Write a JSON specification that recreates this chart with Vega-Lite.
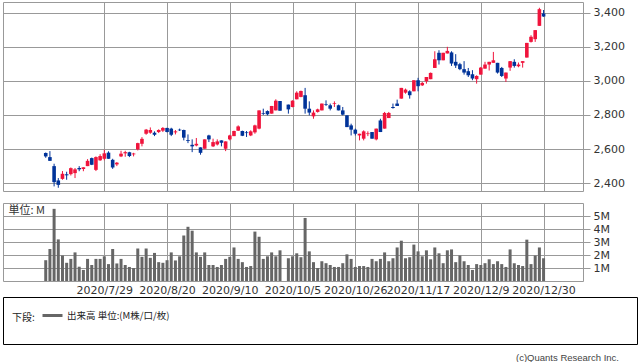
{
  "$schema": "https://vega.github.io/schema/vega-lite/v6.json",
  "padding": {"left": 2, "top": 1, "right": 1, "bottom": 1},
  "background": "white",
  "bounds": "full",
  "spacing": 0,
  "config": {
    "font": "DejaVu Sans",
    "view": {"stroke": "#999999", "strokeWidth": 1},
    "axis": {"gridColor": "#999999", "gridWidth": 1, "gridOpacity": 1, "labelFont": "DejaVu Sans", "labelFontSize": 11, "labelColor": "#333333", "tickColor": "#999999", "domain": false, "title": null, "labelOverlap": false}
  },
  "datasets": {
    "ohlc": [
      {"i":0,"d":"2020-07-07","o":2577,"h":2580,"l":2549,"c":2557,"v":1.6},
      {"i":1,"d":"2020-07-08","o":2553,"h":2588,"l":2530,"c":2531,"v":2.46},
      {"i":2,"d":"2020-07-09","o":2500,"h":2514,"l":2381,"c":2406,"v":5.55},
      {"i":3,"d":"2020-07-10","o":2416,"h":2430,"l":2373,"c":2390,"v":3.2},
      {"i":4,"d":"2020-07-13","o":2425,"h":2471,"l":2420,"c":2455,"v":1.96},
      {"i":5,"d":"2020-07-14","o":2452,"h":2467,"l":2420,"c":2446,"v":1.4},
      {"i":6,"d":"2020-07-15","o":2453,"h":2492,"l":2445,"c":2488,"v":1.7},
      {"i":7,"d":"2020-07-16","o":2459,"h":2489,"l":2430,"c":2481,"v":2.2},
      {"i":8,"d":"2020-07-17","o":2489,"h":2500,"l":2470,"c":2481,"v":1.1},
      {"i":9,"d":"2020-07-20","o":2483,"h":2493,"l":2470,"c":2493,"v":0.85},
      {"i":10,"d":"2020-07-21","o":2500,"h":2541,"l":2500,"c":2531,"v":1.7},
      {"i":11,"d":"2020-07-22","o":2547,"h":2550,"l":2506,"c":2508,"v":1.23},
      {"i":12,"d":"2020-07-27","o":2478,"h":2557,"l":2471,"c":2553,"v":1.7},
      {"i":13,"d":"2020-07-28","o":2534,"h":2570,"l":2531,"c":2559,"v":1.7},
      {"i":14,"d":"2020-07-29","o":2543,"h":2596,"l":2534,"c":2575,"v":1.9},
      {"i":15,"d":"2020-07-30","o":2579,"h":2587,"l":2543,"c":2543,"v":1.3},
      {"i":16,"d":"2020-07-31","o":2537,"h":2543,"l":2484,"c":2492,"v":2.46},
      {"i":17,"d":"2020-08-03","o":2510,"h":2524,"l":2500,"c":2520,"v":1.35},
      {"i":18,"d":"2020-08-04","o":2557,"h":2590,"l":2553,"c":2573,"v":1.7},
      {"i":19,"d":"2020-08-05","o":2575,"h":2590,"l":2555,"c":2582,"v":1.23},
      {"i":20,"d":"2020-08-06","o":2582,"h":2584,"l":2553,"c":2559,"v":1.08},
      {"i":21,"d":"2020-08-07","o":2569,"h":2578,"l":2557,"c":2574,"v":1.0},
      {"i":22,"d":"2020-08-11","o":2598,"h":2637,"l":2592,"c":2635,"v":2.5},
      {"i":23,"d":"2020-08-12","o":2631,"h":2670,"l":2616,"c":2660,"v":1.86},
      {"i":24,"d":"2020-08-13","o":2690,"h":2718,"l":2684,"c":2714,"v":2.5},
      {"i":25,"d":"2020-08-14","o":2696,"h":2727,"l":2690,"c":2712,"v":1.78},
      {"i":26,"d":"2020-08-17","o":2696,"h":2704,"l":2676,"c":2684,"v":2.16},
      {"i":27,"d":"2020-08-18","o":2700,"h":2716,"l":2694,"c":2712,"v":1.45},
      {"i":28,"d":"2020-08-19","o":2708,"h":2729,"l":2700,"c":2724,"v":1.4},
      {"i":29,"d":"2020-08-20","o":2724,"h":2725,"l":2698,"c":2700,"v":1.6},
      {"i":30,"d":"2020-08-21","o":2720,"h":2725,"l":2676,"c":2684,"v":2.2},
      {"i":31,"d":"2020-08-24","o":2698,"h":2712,"l":2686,"c":2704,"v":1.58},
      {"i":32,"d":"2020-08-25","o":2714,"h":2720,"l":2706,"c":2710,"v":1.9},
      {"i":33,"d":"2020-08-26","o":2712,"h":2714,"l":2651,"c":2667,"v":3.5},
      {"i":34,"d":"2020-08-27","o":2653,"h":2686,"l":2635,"c":2648,"v":4.17},
      {"i":35,"d":"2020-08-28","o":2625,"h":2657,"l":2582,"c":2616,"v":3.87},
      {"i":36,"d":"2020-08-31","o":2621,"h":2665,"l":2616,"c":2631,"v":2.2},
      {"i":37,"d":"2020-09-01","o":2610,"h":2610,"l":2567,"c":2578,"v":1.86},
      {"i":38,"d":"2020-09-02","o":2602,"h":2657,"l":2602,"c":2657,"v":2.2},
      {"i":39,"d":"2020-09-03","o":2680,"h":2684,"l":2641,"c":2657,"v":1.23},
      {"i":40,"d":"2020-09-04","o":2616,"h":2661,"l":2612,"c":2641,"v":1.23},
      {"i":41,"d":"2020-09-07","o":2627,"h":2657,"l":2621,"c":2645,"v":1.08},
      {"i":42,"d":"2020-09-08","o":2651,"h":2651,"l":2616,"c":2637,"v":1.23},
      {"i":43,"d":"2020-09-09","o":2602,"h":2645,"l":2588,"c":2645,"v":1.7},
      {"i":44,"d":"2020-09-10","o":2657,"h":2684,"l":2651,"c":2680,"v":1.86},
      {"i":45,"d":"2020-09-11","o":2676,"h":2708,"l":2676,"c":2706,"v":2.58},
      {"i":46,"d":"2020-09-14","o":2708,"h":2739,"l":2706,"c":2733,"v":1.7},
      {"i":47,"d":"2020-09-15","o":2706,"h":2708,"l":2676,"c":2678,"v":1.45},
      {"i":48,"d":"2020-09-16","o":2698,"h":2706,"l":2671,"c":2694,"v":1.08},
      {"i":49,"d":"2020-09-17","o":2680,"h":2710,"l":2676,"c":2704,"v":1.15},
      {"i":50,"d":"2020-09-18","o":2698,"h":2743,"l":2690,"c":2739,"v":3.8},
      {"i":51,"d":"2020-09-23","o":2720,"h":2827,"l":2716,"c":2827,"v":3.4},
      {"i":52,"d":"2020-09-24","o":2810,"h":2837,"l":2800,"c":2806,"v":1.7},
      {"i":53,"d":"2020-09-25","o":2823,"h":2827,"l":2798,"c":2804,"v":1.9},
      {"i":54,"d":"2020-09-28","o":2808,"h":2853,"l":2808,"c":2853,"v":2.2},
      {"i":55,"d":"2020-09-29","o":2827,"h":2892,"l":2827,"c":2884,"v":1.9},
      {"i":56,"d":"2020-09-30","o":2882,"h":2882,"l":2825,"c":2825,"v":2.36},
      {"i":58,"d":"2020-10-02","o":2861,"h":2861,"l":2808,"c":2833,"v":1.75},
      {"i":59,"d":"2020-10-05","o":2847,"h":2886,"l":2845,"c":2884,"v":1.9},
      {"i":60,"d":"2020-10-06","o":2892,"h":2939,"l":2892,"c":2931,"v":2.13},
      {"i":61,"d":"2020-10-07","o":2906,"h":2943,"l":2904,"c":2941,"v":1.83},
      {"i":62,"d":"2020-10-08","o":2916,"h":2959,"l":2808,"c":2837,"v":4.85},
      {"i":63,"d":"2020-10-09","o":2837,"h":2880,"l":2798,"c":2814,"v":2.28},
      {"i":64,"d":"2020-10-12","o":2792,"h":2827,"l":2778,"c":2814,"v":1.45},
      {"i":65,"d":"2020-10-13","o":2818,"h":2837,"l":2814,"c":2833,"v":1.0},
      {"i":66,"d":"2020-10-14","o":2827,"h":2867,"l":2827,"c":2867,"v":1.52},
      {"i":67,"d":"2020-10-15","o":2863,"h":2886,"l":2853,"c":2859,"v":1.37},
      {"i":68,"d":"2020-10-16","o":2857,"h":2867,"l":2827,"c":2837,"v":1.23},
      {"i":69,"d":"2020-10-19","o":2865,"h":2880,"l":2847,"c":2869,"v":1.08},
      {"i":70,"d":"2020-10-20","o":2857,"h":2861,"l":2827,"c":2827,"v":1.08},
      {"i":71,"d":"2020-10-21","o":2827,"h":2847,"l":2798,"c":2802,"v":1.37},
      {"i":72,"d":"2020-10-22","o":2798,"h":2798,"l":2729,"c":2729,"v":2.05},
      {"i":73,"d":"2020-10-23","o":2739,"h":2749,"l":2680,"c":2714,"v":1.7},
      {"i":74,"d":"2020-10-26","o":2714,"h":2720,"l":2680,"c":2690,"v":1.08},
      {"i":75,"d":"2020-10-27","o":2680,"h":2690,"l":2651,"c":2690,"v":1.15},
      {"i":76,"d":"2020-10-28","o":2661,"h":2710,"l":2651,"c":2704,"v":1.15},
      {"i":77,"d":"2020-10-29","o":2688,"h":2704,"l":2676,"c":2692,"v":1.08},
      {"i":78,"d":"2020-10-30","o":2700,"h":2700,"l":2661,"c":2661,"v":1.7},
      {"i":79,"d":"2020-11-02","o":2657,"h":2720,"l":2651,"c":2720,"v":1.52},
      {"i":80,"d":"2020-11-04","o":2768,"h":2778,"l":2700,"c":2700,"v":1.7},
      {"i":81,"d":"2020-11-05","o":2720,"h":2818,"l":2720,"c":2812,"v":2.2},
      {"i":82,"d":"2020-11-06","o":2782,"h":2818,"l":2782,"c":2812,"v":1.52},
      {"i":83,"d":"2020-11-09","o":2847,"h":2867,"l":2837,"c":2841,"v":1.75},
      {"i":84,"d":"2020-11-10","o":2867,"h":2890,"l":2853,"c":2853,"v":2.58},
      {"i":85,"d":"2020-11-11","o":2896,"h":2959,"l":2896,"c":2959,"v":3.1},
      {"i":86,"d":"2020-11-12","o":2931,"h":2955,"l":2925,"c":2949,"v":1.75},
      {"i":87,"d":"2020-11-13","o":2939,"h":2945,"l":2896,"c":2916,"v":1.83},
      {"i":88,"d":"2020-11-16","o":2939,"h":3004,"l":2939,"c":3004,"v":2.8},
      {"i":89,"d":"2020-11-17","o":3004,"h":3018,"l":2939,"c":2969,"v":2.28},
      {"i":90,"d":"2020-11-18","o":2974,"h":2994,"l":2970,"c":2988,"v":1.9},
      {"i":91,"d":"2020-11-19","o":2998,"h":3023,"l":2984,"c":3023,"v":2.36},
      {"i":92,"d":"2020-11-20","o":3010,"h":3049,"l":3010,"c":3047,"v":1.67},
      {"i":93,"d":"2020-11-24","o":3076,"h":3174,"l":3076,"c":3127,"v":2.58},
      {"i":94,"d":"2020-11-25","o":3165,"h":3180,"l":3096,"c":3121,"v":2.13},
      {"i":95,"d":"2020-11-26","o":3121,"h":3165,"l":3121,"c":3165,"v":1.37},
      {"i":96,"d":"2020-11-27","o":3161,"h":3200,"l":3161,"c":3176,"v":2.36},
      {"i":97,"d":"2020-11-30","o":3167,"h":3174,"l":3088,"c":3102,"v":2.43},
      {"i":98,"d":"2020-12-01","o":3112,"h":3157,"l":3076,"c":3090,"v":1.45},
      {"i":99,"d":"2020-12-02","o":3098,"h":3106,"l":3063,"c":3069,"v":1.96},
      {"i":100,"d":"2020-12-03","o":3069,"h":3116,"l":3037,"c":3049,"v":1.52},
      {"i":101,"d":"2020-12-04","o":3057,"h":3076,"l":3023,"c":3033,"v":1.23},
      {"i":102,"d":"2020-12-07","o":3039,"h":3063,"l":3004,"c":3014,"v":0.85},
      {"i":103,"d":"2020-12-08","o":3010,"h":3033,"l":2984,"c":3029,"v":1.3},
      {"i":104,"d":"2020-12-09","o":3037,"h":3082,"l":3037,"c":3078,"v":1.23},
      {"i":105,"d":"2020-12-10","o":3072,"h":3112,"l":3072,"c":3096,"v":1.37},
      {"i":106,"d":"2020-12-11","o":3096,"h":3112,"l":3061,"c":3112,"v":1.67},
      {"i":107,"d":"2020-12-14","o":3106,"h":3170,"l":3106,"c":3121,"v":1.3},
      {"i":108,"d":"2020-12-15","o":3106,"h":3106,"l":3043,"c":3049,"v":1.52},
      {"i":109,"d":"2020-12-16","o":3076,"h":3082,"l":3023,"c":3029,"v":1.3},
      {"i":110,"d":"2020-12-17","o":3014,"h":3049,"l":2994,"c":3049,"v":1.08},
      {"i":111,"d":"2020-12-18","o":3078,"h":3116,"l":3059,"c":3116,"v":2.43},
      {"i":112,"d":"2020-12-21","o":3112,"h":3127,"l":3078,"c":3088,"v":1.37},
      {"i":113,"d":"2020-12-22","o":3086,"h":3108,"l":3080,"c":3096,"v":1.23},
      {"i":114,"d":"2020-12-23","o":3106,"h":3116,"l":3078,"c":3116,"v":1.15},
      {"i":115,"d":"2020-12-24","o":3137,"h":3223,"l":3137,"c":3223,"v":3.18},
      {"i":116,"d":"2020-12-25","o":3229,"h":3268,"l":3225,"c":3259,"v":1.3},
      {"i":117,"d":"2020-12-28","o":3245,"h":3298,"l":3229,"c":3298,"v":1.96},
      {"i":118,"d":"2020-12-29","o":3323,"h":3429,"l":3323,"c":3421,"v":2.58},
      {"i":119,"d":"2020-12-30","o":3396,"h":3416,"l":3376,"c":3378,"v":1.75}
    ]
  },
  "vconcat": [
    {
      "bounds": "flush",
      "spacing": 12,
      "vconcat": [
        {
          "width": 580,
          "height": 189,
          "data": {"name": "ohlc"},
          "encoding": {
            "x": {"field": "i", "type": "quantitative",
                  "scale": {"domain": [-9.02, 127.23], "nice": false, "zero": false},
                  "axis": {"values": [14, 29, 44, 59, 74, 89, 104, 119], "labels": false, "ticks": false, "grid": true}},
            "color": {"condition": {"test": "datum.c >= datum.o", "value": "#f0143c"}, "value": "#003399"}
          },
          "layer": [
            {
              "mark": {"type": "rule", "strokeWidth": 1},
              "encoding": {
                "y": {"field": "l", "type": "quantitative",
                      "scale": {"domain": [2354, 3463], "nice": false, "zero": false},
                      "axis": {"orient": "right", "values": [2400, 2600, 2800, 3000, 3200, 3400], "labelExpr": "format(datum.value, ',')", "tickSize": 7, "labelPadding": 3, "grid": true}},
                "y2": {"field": "h"}
              }
            },
            {
              "mark": {"type": "bar", "width": 3.6},
              "encoding": {
                "y": {"field": "o", "type": "quantitative",
                      "scale": {"domain": [2354, 3463], "nice": false, "zero": false},
                      "axis": {"orient": "right", "values": [2400, 2600, 2800, 3000, 3200, 3400], "labelExpr": "format(datum.value, ',')", "tickSize": 7, "labelPadding": 3, "grid": true}},
                "y2": {"field": "c"}
              }
            }
          ]
        },
        {
          "width": 580,
          "height": 78,
          "data": {"name": "ohlc"},
          "mark": {"type": "bar", "width": 3},
          "encoding": {
            "x": {"field": "i", "type": "quantitative",
                  "scale": {"domain": [-9.02, 127.23], "nice": false, "zero": false},
                  "axis": {"values": [14, 29, 44, 59, 74, 89, 104, 119], "grid": true, "ticks": false, "labelPadding": 3, "labelFlush": false,
                           "labelExpr": "['2020/7/29','2020/8/20','2020/9/10','2020/10/5','2020/10/26','2020/11/17','2020/12/9','2020/12/30'][round((datum.value - 14) / 15)]"}},
            "y": {"field": "v", "type": "quantitative",
                  "scale": {"domain": [0, 6], "nice": false},
                  "axis": {"orient": "right", "values": [1, 2, 3, 4, 5], "labelExpr": "datum.value + 'M'", "tickSize": 7, "labelPadding": 3, "grid": true,
                           "title": "単位: M", "titleAngle": 0, "titleX": -575, "titleY": 7, "titleAlign": "left", "titleBaseline": "middle",
                           "titleFont": "Noto Sans CJK JP", "titleFontSize": 11, "titleFontWeight": "normal", "titleColor": "#333333"}},
            "color": {"datum": "出来高 単位:(M株/口/枚)",
                      "scale": {"domain": ["出来高 単位:(M株/口/枚)"], "range": ["#666666"]},
                      "legend": {"orient": "none", "legendX": 9, "legendY": 302, "title": "下段:", "titleOrient": "left",
                                 "titleFont": "Noto Sans CJK JP", "titleFontSize": 10, "titleFontWeight": "normal", "titleColor": "#222222", "titlePadding": 6,
                                 "labelFont": "Noto Sans CJK JP", "labelFontSize": 9.5, "labelColor": "#222222", "labelOffset": 3,
                                 "symbolType": "stroke", "symbolSize": 400, "symbolStrokeWidth": 3,
                                 "encode": {"title": {"update": {"dy": {"value": 5}}},
                                            "symbols": {"update": {"stroke": {"value": "#666666"}, "strokeWidth": {"value": 3}}}}}}
          }
        }
      ]
    },
    {
      "width": 634,
      "height": 47,
      "data": {"values": []},
      "mark": {"type": "rule"},
      "encoding": {},
      "view": {"stroke": "#000000", "strokeWidth": 1},
      "title": {"text": "(c)Quants Research Inc.", "orient": "bottom", "anchor": "end", "offset": 9, "dx": -18,
                "fontSize": 9.5, "fontWeight": "normal", "color": "#444444", "font": "Liberation Sans"}
    }
  ]
}
